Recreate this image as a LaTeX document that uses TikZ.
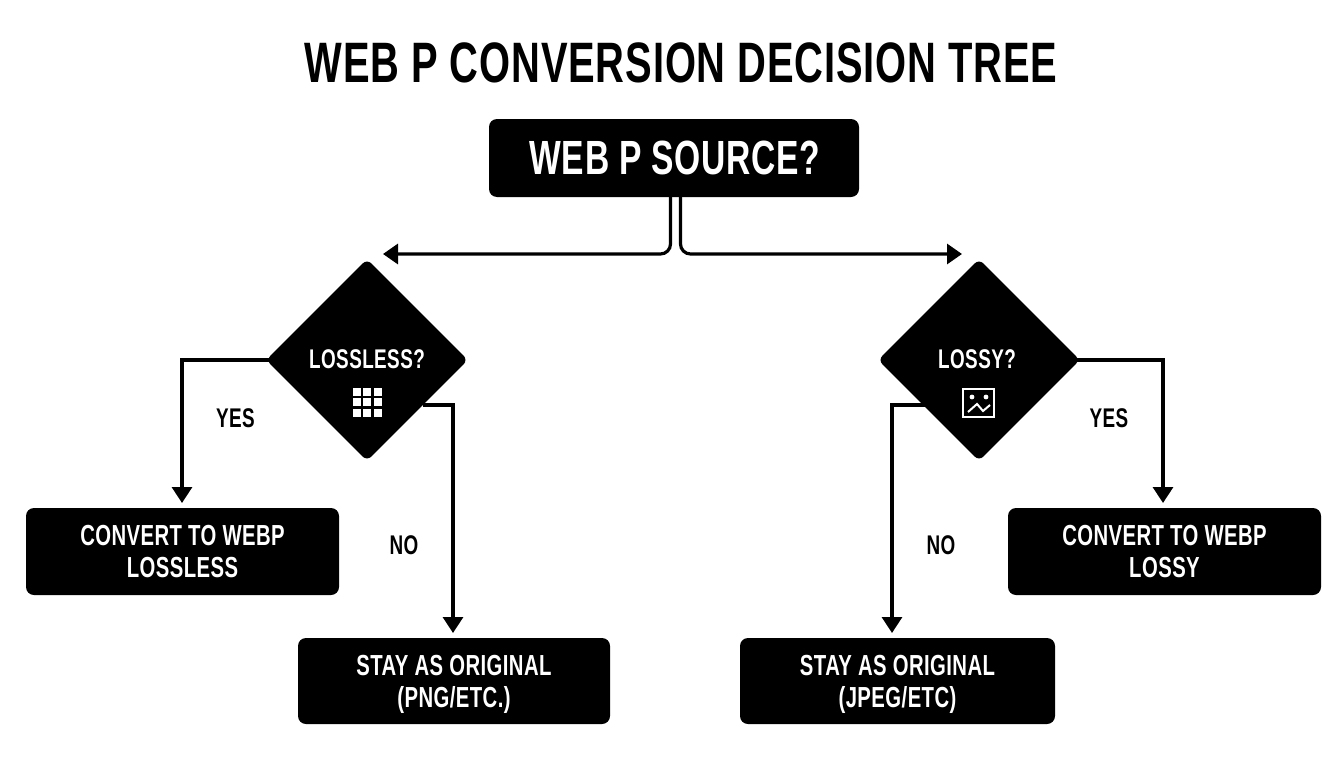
\documentclass[tikz,border=0pt]{standalone}
\usepackage{fontspec}
\setmainfont{Liberation Sans}[FakeStretch=0.70,LetterSpace=1.5,BoldFont={Liberation Sans Bold}]
\usetikzlibrary{shapes.geometric,arrows.meta,positioning}
\tikzset{
  x=1pt,y=-1pt,
  box/.style={fill=black,text=white,rounded corners=8pt,inner sep=0pt,align=center,font=\fontsize{29}{32}\selectfont\bfseries},
  dec/.style={diamond,fill=black,rounded corners=6pt,inner sep=0pt,minimum width=202pt,minimum height=202pt},
  dectext/.style={text=white,inner sep=0pt,font=\fontsize{27}{30}\selectfont\bfseries},
  lab/.style={text=black,inner sep=0pt,font=\fontsize{27}{30}\selectfont\bfseries},
  link/.style={line width=3.2pt,rounded corners=10pt,-{Triangle[length=15pt,width=20pt]}},
  plain/.style={line width=3.2pt,-{Triangle[length=16pt,width=20pt]}},
  icon/.style={white,line width=2pt}
}
\begin{document}
\begin{tikzpicture}
\useasboundingbox (0,0) rectangle (1344,768);
\node[inner sep=0pt,font=\fontsize{57}{62}\selectfont\bfseries] (title) at (681,63) {WEB P CONVERSION DECISION TREE};
\node[box,minimum width=370pt,minimum height=78pt,font=\fontsize{48}{52}\selectfont\bfseries] (src) at (674,158) {\hspace{2pt}WEB P SOURCE?};
\node[dec] (dl) at (367,360) {};
\node[dec] (dr) at (979,360) {};
\node[dectext] (tl) at (367,359) {LOSSLESS?};
\node[dectext] (tr) at (977,359) {LOSSY?};
\node[box,minimum width=313pt,minimum height=87pt] (cl) at (182.5,551.5) {CONVERT TO WEBP\\LOSSLESS};
\node[box,minimum width=312pt,minimum height=86pt] (sl) at (454,681) {\raisebox{-10pt}[0pt][0pt]{\begin{tabular}{@{}c@{}}STAY AS ORIGINAL\\(PNG/ETC.)\end{tabular}}};
\node[box,minimum width=315pt,minimum height=86pt] (sr) at (897.5,681) {\raisebox{-10pt}[0pt][0pt]{\begin{tabular}{@{}c@{}}STAY AS ORIGINAL\\(JPEG/ETC)\end{tabular}}};
\node[box,minimum width=313pt,minimum height=87pt] (cr) at (1164.5,551.5) {CONVERT TO WEBP\\LOSSY};
\node[lab] (yl) at (235.5,418) {YES};
\node[lab] (nl) at (404,545) {NO};
\node[lab] (nr) at (941,545) {NO};
\node[lab] (yr) at (1109,418) {YES};
% icons
\foreach \i in {0,1,2}\foreach \j in {0,1,2}
  \fill[white] (353+\i*10.3,388+\j*10.3) rectangle ++(8,8);
\draw[icon] (963,389) rectangle (994,417);
\fill[white] (972,397) circle (2.4pt) (986,397) circle (2.4pt);
\draw[icon] (968,412) -- (977,404) -- (983,411) -- (990,405);
% connectors
\coordinate (sa) at (670.5,197);
\coordinate (sb) at (680.5,197);
\coordinate (ta) at (383,254);
\coordinate (tb) at (962,254);
\draw[link] (sa) -- (670.5,254) -- (ta);
\draw[link] (sb) -- (680.5,254) -- (tb);
\draw[plain] (dl.center) ++(-90,0) -- (182,360) -- (182,503);
\coordinate (ol) at (423,405);
\draw[plain] (ol) -- (453,405) -- (453,633);
\draw[plain] (dr.center) ++(90,0) -- (1163,360) -- (1163,503);
\coordinate (or) at (935,405);
\draw[plain] (or) -- (892,405) -- (892,633);
\end{tikzpicture}
\end{document}
